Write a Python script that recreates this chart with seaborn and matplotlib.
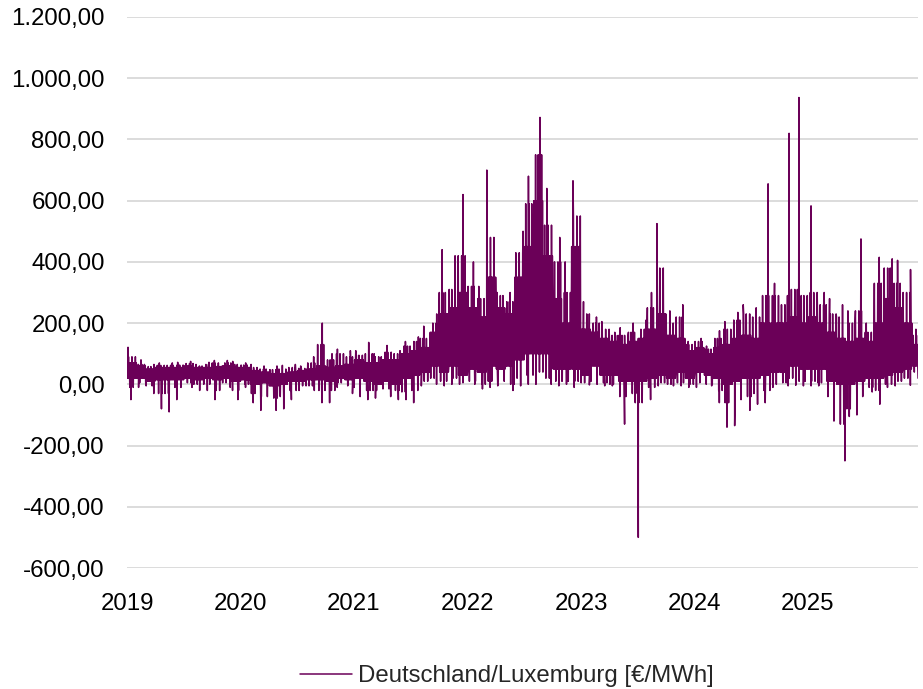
import numpy as np
import pandas as pd
import matplotlib
matplotlib.use("Agg")
import matplotlib.pyplot as plt
from matplotlib.ticker import FuncFormatter, FixedLocator
import seaborn as sns

# ---- data (monthly envelope of hourly prices, €/MWh) ----
years = [2019, 2020, 2021, 2022, 2023, 2024, 2025]
month_max = [
    121, 80, 65, 70, 70, 72, 75, 65, 72, 78, 78, 75,
    70, 65, 60, 60, 62, 65, 60, 90, 200, 100, 115, 110,
    110, 137, 100, 127, 110, 140, 155, 190, 230, 440, 420, 620,
    400, 320, 700, 300, 300, 500, 680, 872, 640, 480, 400, 665,
    270, 220, 205, 170, 185, 200, 210, 300, 525, 240, 260, 140,
    150, 125, 175, 205, 235, 260, 250, 655, 330, 290, 820, 937,
    583, 300, 280, 260, 240, 475, 200, 415, 410, 405, 375, 180,
]
month_peak = [
    90, 65, 58, 62, 62, 63, 68, 60, 65, 70, 70, 65,
    63, 55, 50, 48, 50, 55, 52, 70, 130, 80, 100, 90,
    95, 100, 90, 105, 100, 125, 140, 150, 200, 300, 310, 420,
    320, 280, 480, 290, 270, 430, 590, 750, 520, 400, 300, 550,
    230, 200, 180, 160, 160, 170, 180, 250, 380, 200, 220, 130,
    140, 115, 150, 180, 210, 230, 220, 290, 290, 260, 310, 290,
    300, 260, 230, 220, 200, 240, 170, 330, 380, 330, 300, 160,
]
month_high = [
    70, 60, 50, 55, 55, 55, 60, 55, 55, 58, 60, 55,
    55, 45, 40, 35, 35, 40, 45, 50, 60, 55, 60, 65,
    80, 70, 70, 80, 80, 100, 110, 120, 170, 230, 250, 300,
    250, 220, 350, 250, 230, 350, 450, 600, 420, 280, 200, 450,
    180, 170, 150, 140, 130, 140, 150, 180, 230, 160, 150, 110,
    120, 100, 120, 130, 150, 160, 150, 200, 200, 200, 220, 200,
    220, 200, 170, 150, 140, 150, 140, 200, 280, 250, 200, 130,
]
month_low = [
    20, 20, 10, 15, 15, 15, 20, 15, 20, 15, 20, 10,
    15, 0, 5, -5, 0, 10, 10, 15, 15, 10, 20, 15,
    20, 10, 0, 10, 0, 20, 30, 40, 60, 40, 60, 30,
    50, 40, 60, 50, 60, 80, 100, 100, 100, 50, 50, 50,
    30, 60, 30, 30, 10, 10, 10, 20, 30, 20, 40, 20,
    40, 30, 20, 0, 10, 20, 20, 30, 40, 40, 60, 50,
    50, 50, 10, 0, 0, 10, 20, 20, 30, 40, 50, 60,
]
month_dip = [
    -10, 5, -5, -30, -30, -10, 5, 0, 0, -20, 5, -20,
    0, -30, -40, -45, -40, -20, -5, -5, -20, -20, 5, -5,
    -10, -20, -20, -15, -20, -25, -20, 10, 20, 10, 20, 5,
    10, 0, 10, 10, 0, 20, 30, 40, 20, 10, 10, 10,
    5, 10, 5, 0, -40, -30, -60, -10, 5, 0, 5, 0,
    5, 0, -20, -60, -50, -40, -30, -20, 0, 5, 20, 10,
    10, 5, -40, -130, -80, -40, -10, -20, 0, 10, 20, 40,
]
month_min = [
    -50, -10, -30, -80, -90, -50, -10, -20, -20, -50, -10, -50,
    -10, -60, -85, -85, -80, -50, -20, -20, -60, -60, -10, -30,
    -40, -50, -45, -40, -50, -50, -60, -5, 0, -5, 0, 0,
    0, -15, -10, -5, -20, -5, 0, 0, 0, -5, 0, -10,
    -2, 0, -5, -5, -130, -60, -500, -50, -5, -5, -5, -10,
    -10, -5, -60, -140, -135, -85, -65, -60, -10, -5, -3, -5,
    -5, -5, -120, -250, -105, -100, -25, -65, -10, -5, -3, 20,
]
# position (fraction of the month) of the most visible spikes
max_pos = {"2020-09": 0.64, "2021-12": 0.52, "2022-03": 0.04, "2022-08": 0.66,
           "2022-12": 0.15, "2023-09": 0.03, "2024-08": 0.78, "2024-11": 0.0,
           "2024-12": 0.04, "2025-01": 0.32, "2025-06": 0.6}
min_pos = {"2023-07": 0.05, "2023-05": 0.6, "2025-04": 0.9}
series_label = "Deutschland/Luxemburg [€/MWh]"
y_ticks = [-600, -400, -200, 0, 200, 400, 600, 800, 1000, 1200]
x_end = 2025.97

# ---- arrange the monthly levels as an hourly-like trace ----
levels = {"lo": month_low, "hi": month_high, "pk": month_peak, "dp": month_dip}
slots = ["lo", "hi", "lo", "pk", "lo", "hi", "dp", "hi", "lo", "hi", "lo", "pk",
         "lo", "hi", "dp", "hi", "lo", "hi", "lo", "pk", "lo", "hi"]
K = len(slots)
t, p = [], []
for m in range(len(month_max)):
    y0 = years[0] + m // 12
    mo = m % 12
    key_m = f"{y0}-{mo + 1:02d}"
    shift = (m * 7) % K
    order = slots[shift:] + slots[:shift]
    for i, key in enumerate(order):
        t.append(y0 + (mo + (i + 0.5) / K) / 12.0)
        p.append(levels[key][m])
    fmax = max_pos.get(key_m, ((m * 0.37) % 0.8) + 0.1)
    fmin = min_pos.get(key_m, ((m * 0.61 + 0.3) % 0.8) + 0.1)
    t.append(y0 + (mo + fmax + 0.2 / K) / 12.0)
    p.append(month_max[m])
    t.append(y0 + (mo + fmin + 0.3 / K) / 12.0)
    p.append(month_min[m])
df = pd.DataFrame({"t": t, "price": p}).sort_values("t")

# ---- plot ----
sns.set_theme(style="white")
plt.rcParams["font.family"] = ["Liberation Sans", "DejaVu Sans"]
fs = 17.3

fig = plt.figure(figsize=(9.23, 6.89), dpi=100)
ax = fig.add_axes([127 / 923, 1 - 568 / 689, (918 - 127) / 923, (568 - 17) / 689])

sns.lineplot(data=df, x="t", y="price", ax=ax, color="#6b0058",
             linewidth=1.1, label=series_label, estimator=None)

ax.set_xlim(years[0], x_end)
ax.set_ylim(y_ticks[0], y_ticks[-1])
ax.yaxis.set_major_locator(FixedLocator(y_ticks))
ax.xaxis.set_major_locator(FixedLocator(years))


def de_fmt(v, pos):
    s = f"{v:,.2f}"
    return s.replace(",", "X").replace(".", ",").replace("X", ".")


ax.yaxis.set_major_formatter(FuncFormatter(de_fmt))
ax.xaxis.set_major_formatter(FuncFormatter(lambda v, pos: f"{int(round(v))}"))
ax.grid(axis="y", color="#d9d9d9", linewidth=1.3)
ax.grid(axis="x", visible=False)
ax.set_axisbelow(True)
for s in ax.spines.values():
    s.set_visible(False)
ax.tick_params(axis="both", length=0, labelsize=fs, colors="black")
ax.tick_params(axis="y", pad=16)
ax.tick_params(axis="x", pad=18)
ax.set_xlabel("")
ax.set_ylabel("")

ax.legend(loc="center", bbox_to_anchor=(507 / 923, 1 - 676 / 689),
          bbox_transform=fig.transFigure, frameon=False, fontsize=fs,
          handlelength=2.15, handletextpad=0.25)

fig.savefig("out.png", dpi=100)
